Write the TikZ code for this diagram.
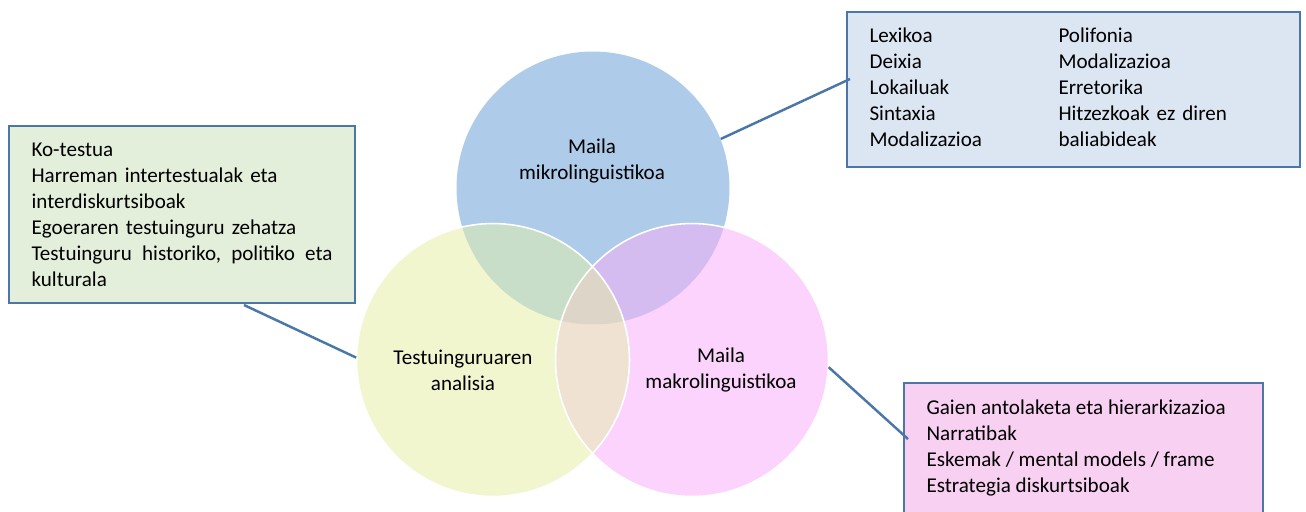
\documentclass[tikz,border=0pt]{standalone}
\usepackage{fontspec}
\setmainfont{Carlito}
\usepackage{xcolor}
\usepackage{tikz}
\usetikzlibrary{positioning}
\definecolor{mikroblue}{HTML}{AECCE9}
\definecolor{testuyellow}{HTML}{F1F6CF}
\definecolor{makropink}{HTML}{FCD3FC}
\definecolor{mikrotestu}{HTML}{C9DEC8}
\definecolor{mikromakro}{HTML}{D4BCF1}
\definecolor{testumakro}{HTML}{F0E2D2}
\definecolor{allthree}{HTML}{DDD5C8}
\definecolor{mikrofill}{HTML}{DCE6F2}
\definecolor{testufill}{HTML}{E3EFDA}
\definecolor{makrofill}{HTML}{F8D0F2}
\definecolor{edgeblue}{HTML}{4A76A8}

\begin{document}
\begin{tikzpicture}[
    x=0.02cm, y=-0.02cm,
    every node/.style={font=\fontsize{12}{14.8}\selectfont},
    ring/.style={
        circle,
        minimum size=5.46cm,
        inner sep=0pt
    },
    infobox/.style={
        rectangle,
        draw=edgeblue,
        line width=1.2pt,
        anchor=north west,
        inner xsep=0.45cm,
        align=left
    },
    link/.style={
        draw=edgeblue,
        line width=1.4pt
    }
]
\clip (0,0) rectangle (1306,511);

% Circle centres
\coordinate (cmikro) at (593,188);
\coordinate (ctestu) at (493,360);
\coordinate (cmakro) at (692,360);

% Fills
\fill[mikroblue] (cmikro) circle[radius=2.73cm];
\fill[testuyellow] (ctestu) circle[radius=2.73cm];
\fill[makropink] (cmakro) circle[radius=2.73cm];

% Overlaps
\begin{scope}
    \clip (cmikro) circle[radius=2.73cm];
    \fill[mikrotestu] (ctestu) circle[radius=2.73cm];
    \fill[mikromakro] (cmakro) circle[radius=2.73cm];
\end{scope}
\begin{scope}
    \clip (ctestu) circle[radius=2.73cm];
    \fill[testumakro] (cmakro) circle[radius=2.73cm];
    \clip (cmikro) circle[radius=2.73cm];
    \fill[allthree] (cmakro) circle[radius=2.73cm];
\end{scope}
\draw[white, line width=0.9pt] (ctestu) circle[radius=2.73cm];
\draw[white, line width=0.9pt] (cmakro) circle[radius=2.73cm];

% Circles and their labels
\node[ring] (mikro) at (cmikro) {};
\node[ring] (testu) at (ctestu) {};
\node[ring] (makro) at (cmakro) {};
\node[align=center] (mikrolabel) at (592,161) {Maila\\mikrolinguistikoa};
\node[align=center] (testulabel) at (463,370) {Testuinguruaren\\analisia};
\node[align=center] (makrolabel) at (721,370) {Maila\\makrolinguistikoa};

% Boxes
\node[infobox, fill=mikrofill, text width=8.16cm, minimum height=3.1cm] (mikrobox) at (846,11) {%
    \begin{tabular}{@{}p{3.78cm}@{}l@{}}
        Lexikoa & Polifonia\\
        Deixia & Modalizazioa\\
        Lokailuak & Erretorika\\
        Sintaxia & Hitzezkoak ez diren\\
        Modalizazioa & baliabideak
    \end{tabular}};
\node[infobox, fill=testufill, text width=6.02cm, minimum height=3.54cm] (testubox) at (8,125) {%
    Ko-testua\\
    Harreman intertestualak eta\\
    interdiskurtsiboak\\
    Egoeraren testuinguru zehatza\\
    \makebox[6.02cm]{Testuinguru\hfill historiko,\hfill politiko\hfill eta}\\
    kulturala};
\node[infobox, fill=makrofill, inner ysep=0.34cm] (makrobox) at (903,382) {%
    \parbox[c][2.6cm][t]{6.28cm}{%
        Gaien antolaketa eta hierarkizazioa\\
        Narratibak\\
        Eskemak / mental models / frame\\
        Estrategia diskurtsiboak}};

% Connectors
\coordinate (mikroend) at (850,79);
\coordinate (testuend) at (244,305);
\coordinate (makroend) at (908,439);
\draw[link] (mikro.21) -- (mikroend);
\draw[link] (testu.179) -- (testuend);
\draw[link] (makro.-3) -- (makroend);

\end{tikzpicture}
\end{document}
